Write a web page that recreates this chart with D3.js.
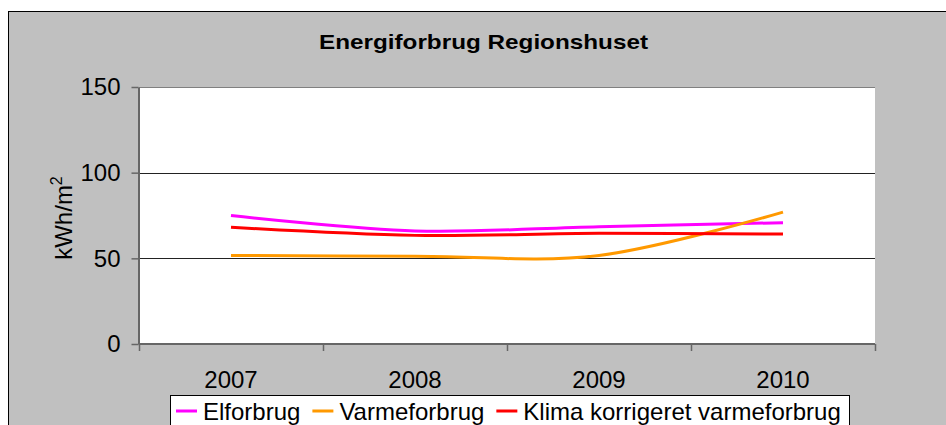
<!DOCTYPE html>
<html>
<head>
<meta charset="utf-8">
<script src="https://cdn.jsdelivr.net/npm/d3@7"></script>
<style>
  body { margin: 0; background: #fff; }
  svg { display: block; font-family: Arial, "Liberation Sans", sans-serif; }
</style>
</head>
<body>
<svg id="chart" width="946" height="425"></svg>
<script>
'use strict';

const years = ['2007', '2008', '2009', '2010'];
const elforbrug = [75, 66, 68.5, 70.8];
const varmeforbrug = [51.7, 51.2, 51.7, 77];
const klimaKorrigeret = [68.1, 63.4, 64.6, 64.2];
const yTicks = [0, 50, 100, 150];
const seriesNames = ['Elforbrug', 'Varmeforbrug', 'Klima korrigeret varmeforbrug'];
const seriesColors = ['#ff00ff', '#ff9900', '#ff0000'];
const seriesValues = [elforbrug, varmeforbrug, klimaKorrigeret];

let svg = d3.select('#chart');

// chart area (grey) with its frame, partly outside the window
svg.append('rect')
  .attr('x', 8.5).attr('y', 11.5)
  .attr('width', 960).attr('height', 430)
  .attr('fill', '#c0c0c0')
  .attr('stroke', '#000')
  .attr('stroke-width', 1);

let plot = {left: 139, right: 875, top: 87, bottom: 344};

let x = d3.scaleBand()
  .domain(years)
  .range([plot.left, plot.right]);

let y = d3.scaleLinear()
  .domain([0, 150])
  .range([plot.bottom, plot.top]);

// plot background
svg.append('rect')
  .attr('x', plot.left).attr('y', plot.top)
  .attr('width', plot.right - plot.left)
  .attr('height', plot.bottom - plot.top)
  .attr('fill', '#fff');

// gridlines
svg.append('g')
  .selectAll('line')
  .data(yTicks.filter(d => d > 0))
  .join('line')
  .attr('x1', plot.left).attr('x2', plot.right)
  .attr('y1', d => Math.round(y(d)) + 0.5)
  .attr('y2', d => Math.round(y(d)) + 0.5)
  .attr('stroke', d => d === 150 ? '#808080' : '#222')
  .attr('stroke-width', 1);

// y axis
let yAxis = svg.append('g')
  .attr('transform', 'translate(' + (plot.left - 0.5) + ',0)')
  .call(d3.axisLeft(y).tickValues(yTicks).tickSize(7).tickPadding(11).tickSizeOuter(0));
yAxis.select('.domain').attr('stroke', '#666').attr('stroke-width', 2);
yAxis.selectAll('.tick line').attr('stroke', '#666').attr('stroke-width', 1.5);
yAxis.selectAll('.tick text')
  .attr('font-size', '24px')
  .attr('fill', '#000')
  .attr('font-family', 'Arial, "Liberation Sans", sans-serif');

// x axis
let xAxis = svg.append('g');
xAxis.append('line')
  .attr('x1', plot.left).attr('x2', plot.right)
  .attr('y1', plot.bottom).attr('y2', plot.bottom)
  .attr('stroke', '#666').attr('stroke-width', 2);
let boundaries = years.map(d => x(d)).concat([x(years[years.length - 1]) + x.bandwidth()]);
xAxis.selectAll('line.tick')
  .data(boundaries)
  .join('line')
  .attr('class', 'tick')
  .attr('x1', d => Math.round(d) + 0.5).attr('x2', d => Math.round(d) + 0.5)
  .attr('y1', plot.bottom).attr('y2', plot.bottom + 7)
  .attr('stroke', '#666').attr('stroke-width', 1.5);
xAxis.selectAll('text')
  .data(years)
  .join('text')
  .attr('x', d => x(d) + x.bandwidth() / 2)
  .attr('y', 388)
  .attr('text-anchor', 'middle')
  .attr('font-size', '24px')
  .text(d => d);

// lines
let line = d3.line()
  .x((d, i) => x(years[i]) + x.bandwidth() / 2)
  .y(d => y(d))
  .curve(d3.curveCardinal.tension(0));

svg.append('g')
  .selectAll('path')
  .data(seriesValues)
  .join('path')
  .attr('d', d => line(d))
  .attr('fill', 'none')
  .attr('stroke', (d, i) => seriesColors[i])
  .attr('stroke-width', 3);

// title
svg.append('text')
  .attr('x', 483.5)
  .attr('y', 49)
  .attr('text-anchor', 'middle')
  .attr('font-size', '21px')
  .attr('font-weight', 'bold')
  .attr('textLength', 329)
  .attr('lengthAdjust', 'spacingAndGlyphs')
  .text('Energiforbrug Regionshuset');

// y axis title
let yTitle = svg.append('text')
  .attr('transform', 'translate(72,218) rotate(-90)')
  .attr('text-anchor', 'middle')
  .attr('font-size', '24px');
yTitle.append('tspan').text('kWh/m');
yTitle.append('tspan').attr('font-size', '16px').attr('dy', -10).text('2');

// legend
let legend = svg.append('g');
legend.append('rect')
  .attr('x', 170.5).attr('y', 395.5)
  .attr('width', 679).attr('height', 60)
  .attr('fill', '#fff')
  .attr('stroke', '#000')
  .attr('stroke-width', 1);

let lx = 176;
seriesNames.forEach(function(name, i) {
  legend.append('line')
    .attr('x1', lx).attr('x2', lx + 21)
    .attr('y1', 411).attr('y2', 411)
    .attr('stroke', seriesColors[i])
    .attr('stroke-width', 3);
  let t = legend.append('text')
    .attr('x', lx + 27)
    .attr('y', 420)
    .attr('font-size', '24px')
    .text(name);
  lx += 27 + t.node().getComputedTextLength() + 12;
});
</script>
</body>
</html>
